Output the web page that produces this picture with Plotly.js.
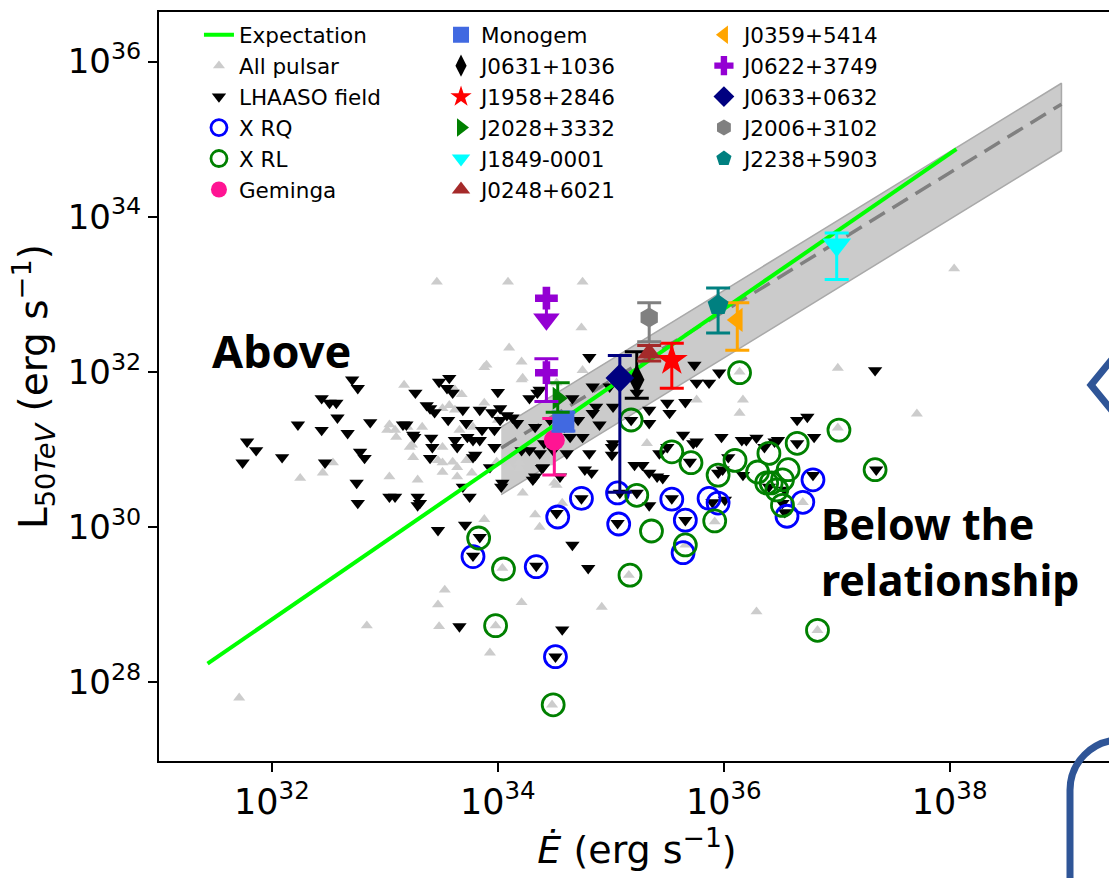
<!DOCTYPE html>
<html><head><meta charset="utf-8">
<script src="https://cdn.plot.ly/plotly-3.0.1.min.js"></script>
<style>html,body{margin:0;padding:0;overflow:hidden;background:#fff;} #chart{width:1120px;height:878px;}</style>
</head><body><div id="chart"></div>
<script>
// ---------- data (log10 values) ----------
const allPulsarLogEdot = [33.17,33.04,33.09,33.02,33.10,33.22,33.25,33.20,33.33,33.51,33.57,33.62,33.66,33.51,33.47,33.60,33.64,33.72,33.88,33.90,34.10,34.21,34.21,34.00,33.04,33.29,33.51,34.22,34.33,34.50,34.57,32.54,32.25,32.45,33.78,33.99,34.10,34.19,33.46,34.09,34.75,34.74,33.88,34.22,34.75,34.52,33.68,33.62,35.76,36.17,36.14,37.01,36.14,37.01,34.46,34.52,34.19,33.64,33.24,33.51,33.77,33.88,34.37,33.53,33.47,33.48,33.93,34.04,34.21,34.92,35.16,33.98,34.48,35.32,35.46,35.92,36.70,36.29,36.83,31.71,32.84,38.04,37.71,35.66];
const allPulsarLogL    = [31.83,31.32,31.25,31.25,31.16,31.03,30.90,31.29,31.29,31.53,31.57,31.51,31.25,30.83,30.86,30.84,30.77,30.86,31.60,32.09,32.31,32.13,31.90,31.38,30.65,30.61,30.71,30.44,30.16,30.57,30.31,30.83,30.63,30.70,31.29,30.84,30.77,30.83,33.16,33.16,33.16,32.57,32.06,31.92,32.02,31.86,31.71,31.77,31.64,31.64,31.47,32.05,32.00,31.28,30.83,30.54,30.76,30.65,31.06,31.03,30.70,30.10,30.00,29.19,29.00,28.72,28.38,29.47,29.03,28.97,29.38,28.73,27.71,31.08,30.99,30.07,30.32,28.91,28.67,27.80,28.73,33.33,31.46,29.77];

const lhaasoLogEdot = [31.74,31.78,31.86,32.09,32.23,32.44,32.51,32.57,32.58,32.44,32.67,32.47,32.71,32.76,32.87,32.78,32.82,32.75,32.76,33.04,33.09,33.29,33.31,33.16,33.19,33.26,33.27,33.37,33.40,33.42,33.44,33.40,33.48,33.57,33.55,33.56,33.62,33.69,33.72,33.73,33.78,33.78,33.64,33.84,33.86,33.97,33.97,33.95,34.00,34.02,34.08,34.13,34.17,34.04,33.69,33.75,34.28,34.37,34.33,34.40,34.41,34.31,34.21,34.59,34.66,
  33.60,33.84,34.02,34.35,34.46,34.84,34.81,34.87,34.99,34.71,34.90,34.64,34.75,34.81,34.61,34.39,34.55,34.37,34.28,35.02,35.23,35.34,35.18,35.34,35.50,35.52,35.66,35.74,35.76,35.87,35.96,35.98,35.76,36.16,36.20,36.36,36.48,36.65,36.74,36.80,37.34,35.21,35.34,35.41,35.64,35.50,34.77,34.83,35.01,35.01,34.84,34.49,33.93,34.03,34.33,34.52,35.08,35.23,35.34,35.54,35.90,36.52,36.79,36.65,36.40,36.17,35.99,
  33.25,33.41,33.80,33.29,33.47,33.71,33.84,33.78,34.74,34.34,34.66,34.80,33.66,34.57,34.51,35.02,35.06,35.28,35.46,35.43,35.66,35.70,35.73,35.95,36.04,36.01,36.29,36.45,36.54,37.35,36.54];
const lhaasoLogL    = [30.83,31.10,30.99,30.90,31.32,31.66,31.60,31.60,31.41,31.25,31.21,30.83,31.90,31.79,31.35,30.97,30.89,30.57,30.31,30.39,30.39,30.39,30.31,31.32,31.32,31.16,31.73,31.57,31.53,31.03,31.48,30.89,31.87,31.92,31.79,31.38,31.12,31.51,31.34,31.16,31.12,30.90,31.03,31.12,31.25,31.25,31.03,31.48,31.74,31.53,31.44,31.41,31.34,30.57,30.52,30.39,31.66,31.77,31.29,30.77,31.08,30.61,30.99,31.29,31.66,
  31.73,31.51,31.38,31.73,31.38,31.81,32.19,31.55,31.81,31.38,31.32,31.16,31.16,30.95,30.95,30.76,30.65,30.95,30.99,31.55,31.73,31.51,31.38,31.34,31.60,31.47,31.61,32.09,31.86,31.86,31.99,31.16,31.10,31.12,31.12,31.03,31.12,31.38,31.42,31.16,32.02,30.80,30.70,30.65,31.19,31.03,30.74,30.70,31.03,30.93,31.47,30.99,30.77,30.52,30.65,30.18,30.44,30.44,30.28,30.37,30.32,30.31,30.67,31.08,30.52,30.67,30.74,
  31.19,31.15,30.93,30.28,29.96,30.03,29.87,29.63,30.37,29.50,29.77,29.47,28.72,28.68,28.33,31.08,30.05,30.80,30.63,30.95,30.09,30.84,31.08,30.70,30.90,30.35,31.15,31.10,30.19,30.74,30.48];

const xrqLogEdot = [33.78,34.34,34.51,34.53,34.74,35.06,35.07,35.54,35.66,35.64,35.87,35.95,36.56,36.70,36.79];
const xrqLogL    = [29.62,29.49,28.33,30.13,30.37,30.44,30.04,30.36,30.09,29.67,30.37,30.31,30.14,30.32,30.61];

const xrlLogEdot = [33.83,34.05,33.98,34.49,35.17,35.23,35.36,35.18,35.54,35.71,35.66,35.92,35.95,36.10,36.30,36.40,36.42,36.52,36.57,36.52,36.65,37.02,37.34,36.83,36.14,36.38,36.47];
const xrlLogL    = [29.86,29.46,28.73,27.71,29.38,30.41,29.95,31.38,30.97,30.83,29.77,30.08,30.67,30.86,30.71,30.95,30.57,30.61,30.74,30.28,31.08,31.25,30.74,28.67,31.99,30.57,30.48];

const expectationLogEdot = [31.43, 38.06];
const expectationLogL    = [28.24, 34.87];

const fitLogEdot    = [34.03, 38.99];
const fitLogL       = [31.02, 35.45];
const fitUpperLogL  = [31.29, 35.72];
const fitLowerLogL  = [30.42, 34.85];

const pulsarNames = ['Geminga','Monogem','J0631+1036','J1958+2846','J2028+3332','J1849-0001','J0248+6021','J0359+5414','J0622+3749','J0633+0632','J2006+3102','J2238+5903'];
const pulsarLogEdot = [34.50, 34.58, 35.23, 35.54, 34.53, 37.00, 35.34, 36.12, 34.43, 35.08, 35.34, 35.95];
const pulsarLogL    = [31.12, 31.36, 31.90, 32.15, 31.66, 33.64, 32.24, 32.67, 31.99, 31.92, 32.70, 32.86];
const pulsarLogLHi  = [31.40, 31.48, 32.26, 32.37, 31.86, 33.79, 32.34, 32.89, 32.17, 32.21, 32.89, 33.08];
const pulsarLogLLo  = [30.67, 31.24, 31.66, 31.79, 31.48, 33.19, 32.14, 32.28, 31.62, 30.45, 32.39, 32.50];

// J0622+3749 upper limit
const ulLogEdot  = [34.43];
const ulLogL     = [32.95];
const ulArrowLogL = [32.68];

const xTickExp = [32, 34, 36, 38];
const yTickExp = [28, 30, 32, 34, 36];

// ---------- styles ----------
const pulsarColors  = ['#ff1493','#4169e1','#000000','#ff0000','#008000','#00ffff','#a52a2a','#ffa500','#9400d3','#000080','#808080','#008080'];
const pulsarSymbols = ['circle','square','diamond-tall','star','triangle-right','triangle-down','triangle-up','triangle-left','cross','diamond','hexagon','pentagon'];
const pulsarSizes   = [21, 22, 22, 24, 20, 25, 21, 21, 19, 22, 20, 22];
const pulsarLegend  = ['legend','legend2','legend2','legend2','legend2','legend2','legend2','legend3','legend3','legend3','legend3','legend3'];

const p10 = a => a.map(v => Math.pow(10, v));
const FONT = 'DejaVu Sans, sans-serif';

const traces = [];
// fit band
traces.push({
  x: p10(fitLogEdot.concat(fitLogEdot.slice().reverse())),
  y: p10(fitLowerLogL.concat(fitUpperLogL.slice().reverse())),
  mode: 'lines', fill: 'toself', fillcolor: '#cbcbcb',
  line: {color: '#a9a9a9', width: 1.5}, showlegend: false, hoverinfo: 'skip'
});
traces.push({
  x: p10(fitLogEdot), y: p10(fitLogL), mode: 'lines',
  line: {color: '#808080', width: 3.5, dash: '18px,9px'}, showlegend: false, hoverinfo: 'skip'
});
traces.push({
  x: p10(allPulsarLogEdot), y: p10(allPulsarLogL), mode: 'markers', name: 'All pulsar',
  marker: {symbol: 'triangle-up', size: 10.5, color: '#cccccc'}, legend: 'legend', legendrank: 2
});
traces.push({
  x: p10(lhaasoLogEdot), y: p10(lhaasoLogL), mode: 'markers', name: 'LHAASO field',
  marker: {symbol: 'triangle-down', size: 12.5, color: '#000000'}, legend: 'legend', legendrank: 3
});
traces.push({
  x: p10(xrqLogEdot), y: p10(xrqLogL), mode: 'markers', name: 'X RQ',
  marker: {symbol: 'circle-open', size: 22, color: '#0000ff', line: {width: 2.8, color: '#0000ff'}}, legend: 'legend', legendrank: 4
});
traces.push({
  x: p10(xrlLogEdot), y: p10(xrlLogL), mode: 'markers', name: 'X RL',
  marker: {symbol: 'circle-open', size: 22, color: '#008000', line: {width: 2.8, color: '#008000'}}, legend: 'legend', legendrank: 5
});
traces.push({
  x: p10(expectationLogEdot), y: p10(expectationLogL), mode: 'lines', name: 'Expectation',
  line: {color: '#00ff00', width: 4}, legend: 'legend', legendrank: 1
});
// J0622 upper limit (drawn before detections)
traces.push({
  x: p10(ulLogEdot), y: p10(ulLogL), mode: 'markers', showlegend: false,
  marker: {symbol: 'cross', size: 19, color: '#9400d3'},
  error_y: {type: 'data', symmetric: false, array: [0], arrayminus: [Math.pow(10, ulLogL[0]) - Math.pow(10, ulArrowLogL[0])], color: '#9400d3', thickness: 3, width: 0}
});
traces.push({
  x: p10(ulLogEdot), y: p10(ulArrowLogL), mode: 'markers', showlegend: false,
  marker: {symbol: 'triangle-down', size: 23, color: '#9400d3'}
});
pulsarNames.forEach((n, i) => {
  const y = Math.pow(10, pulsarLogL[i]);
  traces.push({
    x: [Math.pow(10, pulsarLogEdot[i])], y: [y], mode: 'markers', name: n,
    marker: {symbol: pulsarSymbols[i], size: pulsarSizes[i], color: pulsarColors[i]},
    error_y: {type: 'data', symmetric: false, array: [Math.pow(10, pulsarLogLHi[i]) - y], arrayminus: [y - Math.pow(10, pulsarLogLLo[i])], color: pulsarColors[i], thickness: 3, width: 12},
    legend: pulsarLegend[i], legendrank: 10 + i
  });
});

const legendBase = {yanchor: 'top', xanchor: 'left', y: 0.997, bgcolor: 'rgba(0,0,0,0)', borderwidth: 0,
  font: {family: FONT, size: 21.5, color: '#000'}, tracegroupgap: 0, itemclick: false};

const BLUE = '#2f5597';
const layout = {
  width: 1120, height: 878,
  margin: {l: 159, r: 5, t: 12, b: 117},
  paper_bgcolor: '#fff', plot_bgcolor: '#fff',
  showlegend: true,
  legend:  Object.assign({}, legendBase, {x: 0.0418}),
  legend2: Object.assign({}, legendBase, {x: 0.295}),
  legend3: Object.assign({}, legendBase, {x: 0.570}),
  xaxis: {
    type: 'log', range: [31.0, 39.464],
    tickvals: p10(xTickExp), ticktext: xTickExp.map(e => '10<sup>' + e + '</sup>'),
    ticks: 'outside', ticklen: 9, tickwidth: 2, tickcolor: '#000',
    showline: true, linewidth: 2, linecolor: '#000', mirror: true,
    showgrid: false, zeroline: false,
    tickfont: {family: FONT, size: 35, color: '#000'},
    title: {text: '<i>Ė</i> (erg s<sup>−1</sup>)', font: {family: FONT, size: 38, color: '#000'}, standoff: 8}
  },
  yaxis: {
    type: 'log', range: [26.986, 36.638],
    tickvals: p10(yTickExp), ticktext: yTickExp.map(e => '10<sup>' + e + '</sup>'),
    ticks: 'outside', ticklen: 9, tickwidth: 2, tickcolor: '#000',
    showline: true, linewidth: 2, linecolor: '#000', mirror: true,
    showgrid: false, zeroline: false,
    tickfont: {family: FONT, size: 34, color: '#000'},
    title: {text: 'L<sub>50<i>TeV</i></sub> (erg s<sup>−1</sup>)', font: {family: FONT, size: 39, color: '#000'}, standoff: 8}
  },
  annotations: [
    {xref: 'x', yref: 'y', x: 31.45, y: 32.28, xanchor: 'left', yanchor: 'middle', showarrow: false,
     text: '<b>Above</b>', font: {family: 'Noto Sans, sans-serif', size: 45, color: '#000'}},
    {xref: 'x', yref: 'y', x: 36.84, y: 29.69, xanchor: 'left', yanchor: 'middle', showarrow: false, align: 'left',
     text: '<b>Below the<br>relationship</b>', font: {family: 'Noto Sans, sans-serif', size: 43, color: '#000'}}
  ],
  shapes: [
    {type: 'path', xref: 'paper', yref: 'paper', layer: 'above',
     path: 'M 1.00523 0.54927 L 0.97490 0.50200 L 1.00523 0.45474', line: {color: BLUE, width: 7}},
    {type: 'path', xref: 'paper', yref: 'paper', layer: 'above',
     path: 'M 0.95293 -0.18558 L 0.95293 -0.03872 C 0.95293 -0.00187 0.97636 0.02804 1.00523 0.02804 L 1.19351 0.02804', line: {color: BLUE, width: 7}}
  ]
};

Plotly.newPlot('chart', traces, layout, {displayModeBar: false, staticPlot: true});
</script></body></html>
